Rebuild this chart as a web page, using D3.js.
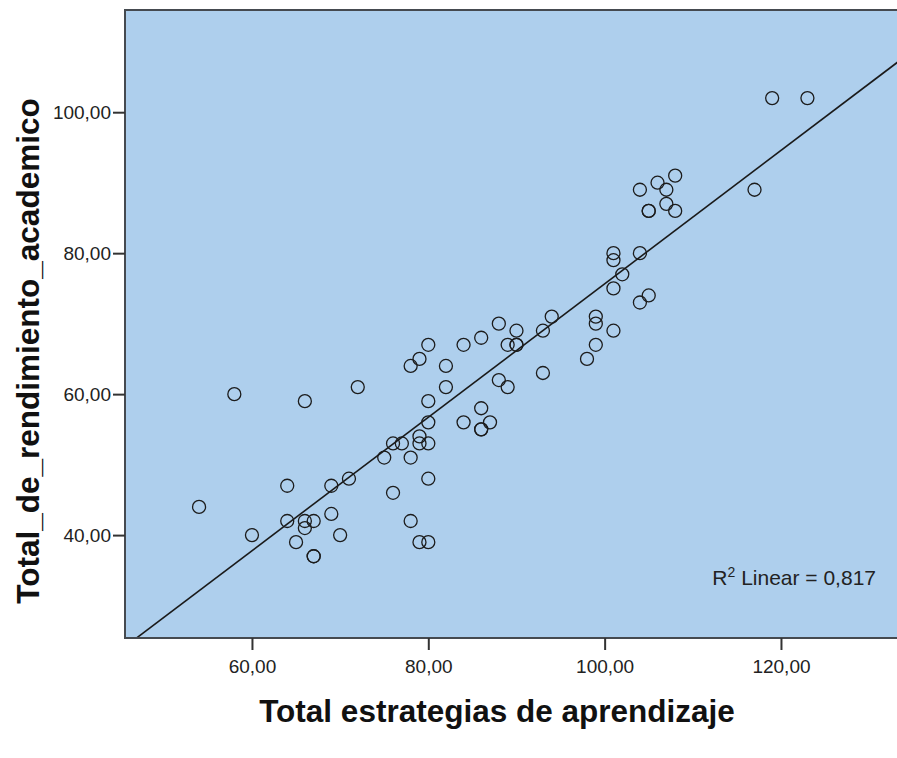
<!DOCTYPE html>
<html>
<head>
<meta charset="utf-8">
<script src="https://cdn.jsdelivr.net/npm/d3@7"></script>
<style>
  body { margin: 0; background: #fff; }
  text { font-family: Arial, "Liberation Sans", sans-serif; }
</style>
</head>
<body>
<div id="viz"></div>
<script>
// scatter points (x = estrategias, y = rendimiento)
var estrategias = [54, 58, 60, 64, 64, 65, 66, 66, 66, 67, 67, 67, 69, 69, 70, 71, 72,
                   75, 76, 76, 77, 78, 78, 78, 79, 79, 79, 79, 80, 80, 80, 80, 80, 80,
                   82, 82, 84, 84, 86, 86, 86, 86, 87, 88, 88, 89, 89, 90, 90, 90,
                   93, 93, 94, 98, 99, 99, 99, 101, 101, 101, 101, 102, 104, 104, 104,
                   105, 105, 105, 106, 107, 107, 108, 108, 117, 119, 123];
var rendimiento = [44, 60, 40, 47, 42, 39, 59, 42, 41, 42, 37, 37, 47, 43, 40, 48, 61,
                   51, 53, 46, 53, 64, 51, 42, 65, 54, 53, 39, 67, 59, 56, 53, 48, 39,
                   64, 61, 67, 56, 68, 58, 55, 55, 56, 70, 62, 67, 61, 69, 67, 67,
                   69, 63, 71, 65, 71, 70, 67, 80, 79, 75, 69, 77, 89, 80, 73,
                   86, 86, 74, 90, 89, 87, 91, 86, 89, 102, 102];

var xTicks = [60, 80, 100, 120],
    yTicks = [40, 60, 80, 100];

var xTitle = "Total estrategias de aprendizaje",
    yTitle = "Total_de_rendimiento_academico",
    r2Label = "0,817";

var screenWidth = 897,
    screenHeight = 758,
    plot = {"left": 125, "top": 10, "right": 900, "bottom": 638};

var svg = d3.select("div#viz")
            .append("svg")
            .attr("width", screenWidth)
            .attr("height", screenHeight);

var xScale = d3.scaleLinear().domain([45.6, 133.5]).range([plot.left, plot.right]),
    yScale = d3.scaleLinear().domain([25.4, 114.5]).range([plot.bottom, plot.top]);

var fmt = function(v) { return d3.format(".2f")(v).replace(".", ","); };

// plot background
svg.append("rect")
   .attr("x", plot.left)
   .attr("y", plot.top)
   .attr("width", plot.right - plot.left)
   .attr("height", plot.bottom - plot.top)
   .attr("fill", "#aecfed");

svg.append("clipPath")
   .attr("id", "clip")
   .append("rect")
   .attr("x", plot.left)
   .attr("y", plot.top)
   .attr("width", plot.right - plot.left)
   .attr("height", plot.bottom - plot.top);

// least squares fit line
var mx = d3.mean(estrategias),
    my = d3.mean(rendimiento),
    sxy = d3.sum(estrategias, function(d, i) { return (d - mx) * (rendimiento[i] - my); }),
    sxx = d3.sum(estrategias, function(d) { return (d - mx) * (d - mx); }),
    slope = sxy / sxx,
    intercept = my - slope * mx;

var xd = xScale.domain();
svg.append("line")
   .attr("clip-path", "url(#clip)")
   .attr("x1", xScale(xd[0]))
   .attr("y1", yScale(intercept + slope * xd[0]))
   .attr("x2", xScale(xd[1]))
   .attr("y2", yScale(intercept + slope * xd[1]))
   .attr("stroke", "#1a1a1a")
   .attr("stroke-width", 1.6);

// points
svg.selectAll("circle.pt")
   .data(estrategias)
   .enter()
   .append("circle")
   .attr("class", "pt")
   .attr("cx", function(d) { return xScale(d); })
   .attr("cy", function(d, i) { return yScale(rendimiento[i]); })
   .attr("r", 6.5)
   .attr("fill", "none")
   .attr("stroke", "#1c1c1c")
   .attr("stroke-width", 1.3);

// frame (no right side visible)
svg.append("path")
   .attr("d", "M" + plot.right + "," + plot.top + "H" + plot.left + "V" + plot.bottom + "H" + plot.right)
   .attr("fill", "none")
   .attr("stroke", "#454a50")
   .attr("stroke-width", 2);

// axes
var xAxis = d3.axisBottom(xScale).tickValues(xTicks).tickFormat(fmt).tickSize(12).tickSizeOuter(0),
    yAxis = d3.axisLeft(yScale).tickValues(yTicks).tickFormat(fmt).tickSize(12).tickSizeOuter(0);

var gx = svg.append("g")
            .attr("transform", "translate(0," + plot.bottom + ")")
            .call(xAxis);
var gy = svg.append("g")
            .attr("transform", "translate(" + plot.left + ",0)")
            .call(yAxis);

[gx, gy].forEach(function(g) {
    g.select(".domain").remove();
    g.selectAll("line").attr("stroke", "#333").attr("stroke-width", 2);
    g.selectAll("text")
     .attr("fill", "#222")
     .style("font-size", "19px");
});
gx.selectAll("text").attr("dy", null).attr("y", 35);
gy.selectAll("text").attr("x", -14).attr("dy", "0.35em");

// axis titles
svg.append("text")
   .attr("x", 497)
   .attr("y", 722)
   .style("text-anchor", "middle")
   .style("font-size", "31.5px")
   .style("font-weight", "bold")
   .attr("fill", "#111")
   .text(xTitle);

svg.append("text")
   .attr("transform", "translate(39,351) rotate(-90)")
   .style("text-anchor", "middle")
   .style("font-size", "31.5px")
   .style("font-weight", "bold")
   .attr("fill", "#111")
   .text(yTitle);

// R squared annotation
var r2 = svg.append("text")
            .attr("x", 876)
            .attr("y", 585)
            .style("text-anchor", "end")
            .style("font-size", "21px")
            .attr("fill", "#222");
r2.append("tspan").text("R");
r2.append("tspan").attr("dy", -8).style("font-size", "14px").text("2");
r2.append("tspan").attr("dy", 8).text(" Linear = " + r2Label);
</script>
</body>
</html>
